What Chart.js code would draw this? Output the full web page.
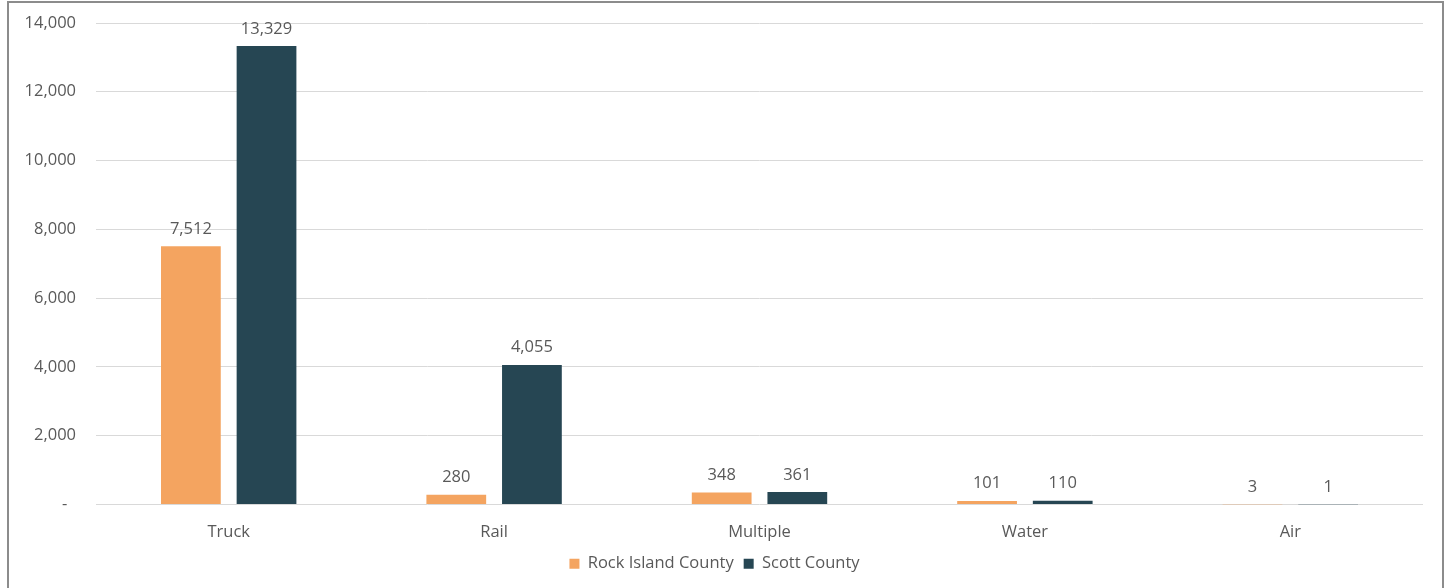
<!DOCTYPE html>
<html>
<head>
<meta charset="utf-8">
<script src="https://cdn.jsdelivr.net/npm/chart.js@4/dist/chart.umd.min.js"></script>
<style>
  html, body { margin: 0; padding: 0; background: #fff; }
  #frame {
    position: absolute; left: 7px; top: 1px; width: 1437px; height: 620px;
    border: 2px solid #8c8c8c; box-sizing: border-box;
  }
  #chart { position: absolute; left: 0; top: 0; }
</style>
</head>
<body>
<div id="frame"></div>
<canvas id="chart" width="1450" height="588"></canvas>
<script>
/* =========================================================
   DATA
========================================================= */
const categories = ["Truck", "Rail", "Multiple", "Water", "Air"];
const rockIsland = [7512, 280, 348, 101, 3];
const scott = [13329, 4055, 361, 110, 1];
const seriesNames = ["Rock Island County", "Scott County"];
const yTicks = [0, 2000, 4000, 6000, 8000, 10000, 12000, 14000];

const TEXT = "#595959";
const FONT = "'Open Sans', sans-serif";
const SIZE = 16.5;

/* =========================================================
   VALUE LABELS
========================================================= */
const valueLabels = {
  id: "valueLabels",
  afterDatasetsDraw(chart) {
    const ctx = chart.ctx;
    ctx.save();
    ctx.font = `${SIZE}px ${FONT}`;
    ctx.fillStyle = TEXT;
    ctx.textAlign = "center";
    ctx.textBaseline = "bottom";
    chart.data.datasets.forEach((ds, i) => {
      chart.getDatasetMeta(i).data.forEach((bar, j) => {
        ctx.fillText(ds.data[j].toLocaleString("en-US"), bar.x, bar.y - 9);
      });
    });
    ctx.restore();
  }
};

/* =========================================================
   CHART
========================================================= */
new Chart(document.getElementById("chart"), {
  type: "bar",
  data: {
    labels: categories,
    datasets: [
      { label: seriesNames[0], data: rockIsland, backgroundColor: "#f4a460" },
      { label: seriesNames[1], data: scott, backgroundColor: "#264653" }
    ]
  },
  options: {
    responsive: false,
    animation: false,
    layout: { padding: { left: 6, right: 27, top: 23, bottom: 6 } },
    datasets: { bar: { categoryPercentage: 0.57, barPercentage: 0.79 } },
    scales: {
      x: {
        grid: { display: false },
        border: { display: false },
        ticks: { color: TEXT, font: { family: FONT, size: SIZE }, padding: 10 },
        afterFit: s => { s.height = 41; }
      },
      y: {
        min: 0,
        max: 14000,
        afterBuildTicks: s => { s.ticks = yTicks.map(v => ({ value: v })); },
        grid: {
          color: "#d9d9d9",
          lineWidth: 1,
          tickLength: 17,
          tickColor: "rgba(0,0,0,0)"
        },
        border: { display: false },
        ticks: {
          color: TEXT,
          font: { family: FONT, size: SIZE },
          padding: 3,
          callback: v => v === 0 ? "-  " : v.toLocaleString("en-US")
        },
        afterFit: s => { s.width = 90; }
      }
    },
    plugins: {
      legend: {
        position: "bottom",
        labels: {
          color: TEXT,
          font: { family: FONT, size: SIZE },
          boxWidth: 10,
          boxHeight: 10,
          padding: 10
        }
      },
      tooltip: { enabled: false }
    }
  },
  plugins: [valueLabels]
});
</script>
</body>
</html>
